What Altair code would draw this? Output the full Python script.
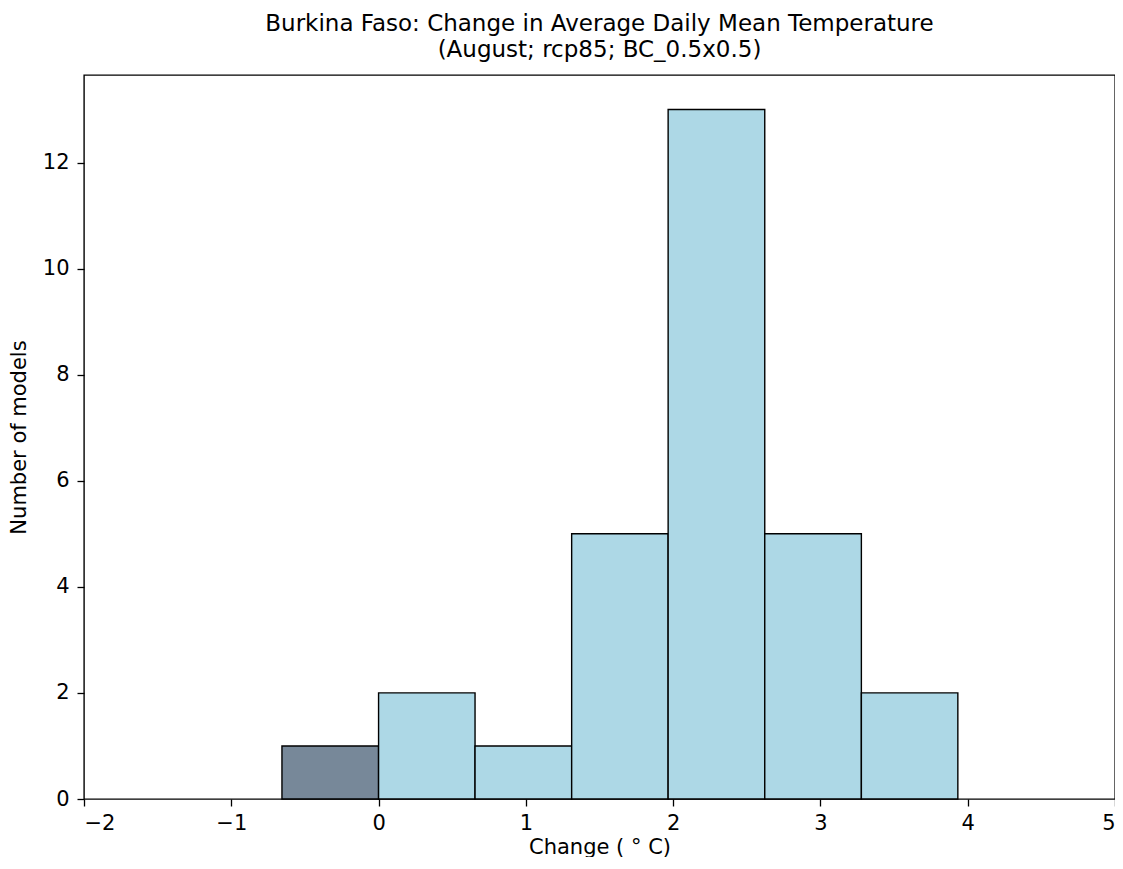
import altair as alt
import pandas as pd

bin_left = [-0.656, 0.0, 0.655, 1.311, 1.966, 2.622, 3.278]
bin_right = [0.0, 0.655, 1.311, 1.966, 2.622, 3.278, 3.933]
counts = [1, 2, 1, 5, 13, 5, 2]
groups = ["neg", "pos", "pos", "pos", "pos", "pos", "pos"]
x_ticks = [-2, -1, 0, 1, 2, 3, 4, 5]
y_ticks = [0, 2, 4, 6, 8, 10, 12]

df = pd.DataFrame({"left": bin_left, "right": bin_right, "count": counts, "grp": groups})

FONT = "DejaVu Sans"

bars = alt.Chart(df).mark_rect(stroke="black", strokeWidth=1.4).encode(
    x=alt.X("left:Q",
            scale=alt.Scale(domain=[-2, 5], nice=False, zero=False),
            axis=alt.Axis(values=x_ticks, title="Change ( ° C)", grid=False,
                          tickSize=7, labelPadding=6, labelFontSize=21,
                          titleFontSize=21, titleFontWeight="normal",
                          titleBaseline="alphabetic", titleY=54,
                          domain=False, labelFont=FONT, titleFont=FONT,
                          labelColor="black", titleColor="black",
                          tickColor="black", tickWidth=1.3)),
    x2="right:Q",
    y=alt.Y("count:Q",
            scale=alt.Scale(domain=[0, 13.65], nice=False),
            axis=alt.Axis(values=y_ticks, title="Number of models", grid=False,
                          tickSize=7, labelPadding=8, labelFontSize=21,
                          titleFontSize=21, titleFontWeight="normal",
                          titleAngle=270, titleBaseline="alphabetic",
                          titleAlign="center", titleX=-59, titleY=362,
                          domain=False, labelFont=FONT, titleFont=FONT,
                          labelColor="black", titleColor="black",
                          tickColor="black", tickWidth=1.3)),
    y2=alt.datum(0),
    color=alt.Color("grp:N", scale=alt.Scale(domain=["neg", "pos"],
                                             range=["#778899", "#add8e6"]),
                    legend=None),
)

chart = bars.properties(
    width=1031,
    height=724,
    title=alt.TitleParams(
        text=["Burkina Faso: Change in Average Daily Mean Temperature",
              "(August; rcp85; BC_0.5x0.5)"],
        font=FONT, fontSize=23, fontWeight="normal", color="black",
        anchor="middle", lineHeight=26, offset=13,
    ),
    autosize=alt.AutoSizeParams(type="none"),
    padding={"left": 76, "top": 67, "right": 0, "bottom": 58},
).configure(
    background="white"
).configure_view(
    stroke="black", strokeWidth=1.4
)

chart.save("out.html", embed_options={"renderer": "svg", "actions": False})
